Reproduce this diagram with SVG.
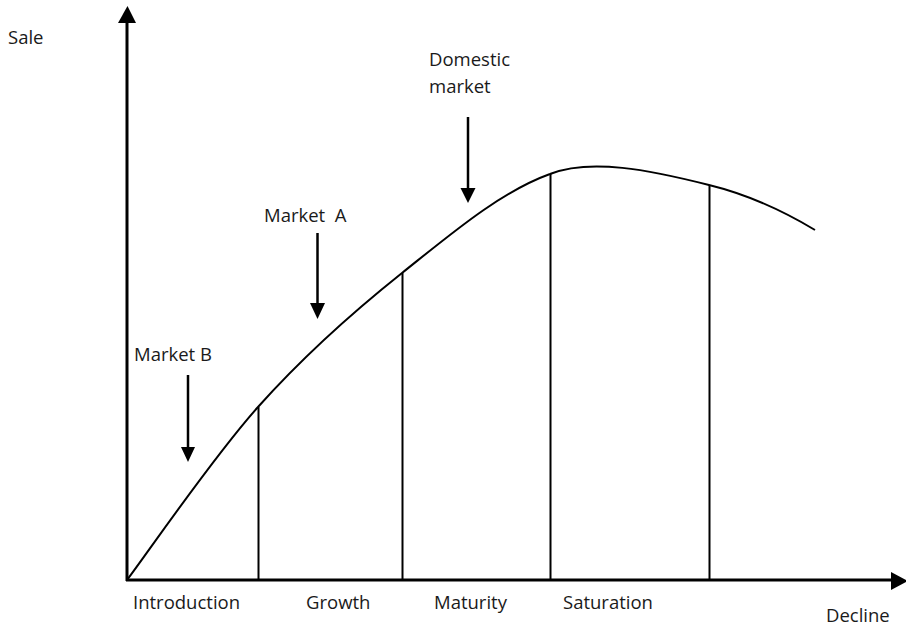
<svg xmlns="http://www.w3.org/2000/svg" width="906" height="627" viewBox="0 0 906 627">
<style>
text{font-family:"Open Sans","Liberation Sans",sans-serif;font-size:18.5px;fill:#1a1a1a;white-space:pre}
.ax{stroke:#000;stroke-width:3;fill:none}
.ln{stroke:#000;stroke-width:2;fill:none}
.ar{stroke:#000;stroke-width:2.5;fill:none}
.hd{fill:#000;stroke:none}
</style>
<rect width="906" height="627" fill="#fff"/>
<g id="axes">
<line class="ax" x1="127" y1="581" x2="127" y2="20"/>
<polygon class="hd" points="127.5,6 118,23 136,23"/>
<line class="ax" x1="126" y1="580" x2="892" y2="580"/>
<polygon class="hd" points="908,581 891,572 891,590"/>
<text x="8" y="44">Sale</text>
</g>
<g id="curve">
<path class="ln" d="M127,580 C148.8,551.2 212.2,458.2 258,407 C303.8,355.8 353.3,311.8 402,273 C450.7,234.2 500,192 550,174 C590,158 650,170 709,185 C750,195 785,212 815,230"/>
</g>
<g id="stage-lines">
<line class="ln" x1="258.5" y1="407" x2="258.5" y2="580"/>
<line class="ln" x1="402.5" y1="273" x2="402.5" y2="580"/>
<line class="ln" x1="550.5" y1="174" x2="550.5" y2="580"/>
<line class="ln" x1="709.5" y1="185" x2="709.5" y2="580"/>
</g>
<g id="stage-labels">
<text x="133" y="609">Introduction</text>
<text x="306" y="609">Growth</text>
<text x="434" y="609">Maturity</text>
<text x="563" y="609">Saturation</text>
<text x="826" y="622">Decline</text>
</g>
<g id="market-b">
<text x="134" y="361">Market B</text>
<line class="ar" x1="188" y1="375" x2="188" y2="450"/>
<polygon class="hd" points="188,462 181,447 195,447"/>
</g>
<g id="market-a">
<text x="264" y="222">Market  A</text>
<line class="ar" x1="317.5" y1="233" x2="317.5" y2="306"/>
<polygon class="hd" points="317.5,319 310,303 325,303"/>
</g>
<g id="domestic">
<text x="429" y="66">Domestic</text>
<text x="429" y="93">market</text>
<line class="ar" x1="468" y1="117" x2="468" y2="190"/>
<polygon class="hd" points="468,203 460.5,188 475.5,188"/>
</g>
</svg>
